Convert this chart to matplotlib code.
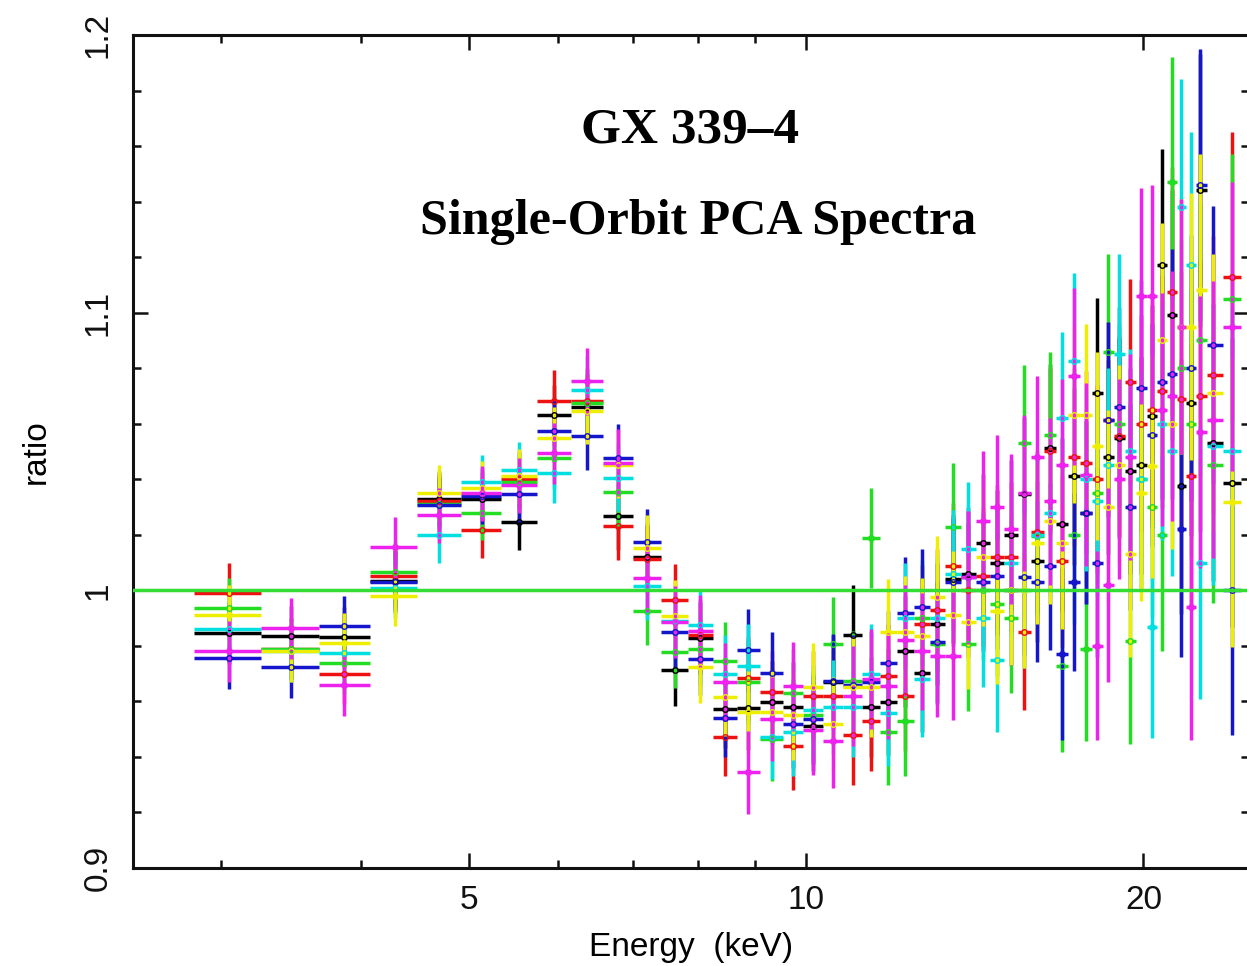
import matplotlib
matplotlib.use("Agg")
import matplotlib.pyplot as plt
from matplotlib.ticker import FixedLocator, FixedFormatter, MultipleLocator, NullFormatter

# energy bin centres (keV) and 1-sigma error on the ratio
energy = [3.05, 3.47, 3.87, 4.29, 4.70, 5.13, 5.54, 5.95, 6.37, 6.79,
          7.21, 7.64, 8.04, 8.46, 8.87, 9.32, 9.73, 10.14, 10.57, 11.00,
          11.43, 11.83, 12.25, 12.69, 13.09, 13.53, 13.95, 14.39, 14.80, 15.24,
          15.65, 16.07, 16.51, 16.92, 17.35, 17.78, 18.19, 18.60, 19.02, 19.46,
          19.91, 20.36, 20.78, 21.22, 21.62, 22.06, 22.47, 23.08, 24.00]
ratio_err = [.011, .011, .011, .011, .010, .010, .010, .011, .012, .012,
             .012, .013, .013, .014, .015, .015, .016, .016, .017, .018,
             .018, .019, .020, .021, .022, .023, .024, .025, .026, .027,
             .028, .029, .030, .031, .032, .033, .034, .035, .036, .037,
             .039, .040, .042, .045, .046, .048, .049, .050, .052]

black = [.9845, .9835, .983, 1.0035, 1.033, 1.0327, 1.0245, 1.063, 1.066, 1.0266,
         1.012, .9712, .9827, .9572, .9576, .9597, .958, .951, .967, .984,
         .958, .9597, .978, .9701, .988, 1.004, 1.006, 1.017, 1.010, 1.020,
         1.0345, 1.0104, 1.0514, 1.0237, 1.041, 1.028, 1.0712, 1.048, 1.055, 1.043,
         1.045, 1.0626, 1.117, 1.0993, 1.0374, 1.0676, 1.144, 1.0532, 1.0388]
red = [.999, .979, .970, 1.005, 1.032, 1.0216, 1.040, 1.0683, 1.068, 1.023,
       1.0112, .9964, .984, .9471, .9683, .9633, .944, .962, .962, .948,
       .953, .969, .962, .988, .993, 1.0086, 1.000, 1.005, 1.012, 1.012,
       .985, 1.021, 1.050, 1.0104, 1.048, 1.046, 1.040, 1.0615, 1.0555, 1.075,
       1.060, 1.065, 1.0716, 1.1076, 1.069, 1.041, 1.070, 1.0777, 1.113]
green = [.9935, .979, .9737, 1.0065, 1.031, 1.028, 1.039, 1.0475, 1.0673, 1.0353,
         .9924, .9777, .9788, .9745, .967, .9464, .963, .955, .9806, .9673,
         1.019, .9489, .953, .990, .9806, 1.0227, .9806, 1.000, .995, .990,
         1.053, 1.0194, 1.0558, .9727, 1.020, .9788, 1.035, 1.086, 1.060, .9817,
         1.040, 1.030, 1.020, 1.147, 1.080, 1.060, 1.090, 1.0453, 1.105]
blue = [.9755, .9723, .987, 1.003, 1.0306, 1.034, 1.0345, 1.0572, 1.0554, 1.0478,
        1.0173, .9849, .9752, .954, .9784, .9701, .952, .9536, .9673, .966,
        .967, .9737, .992, .9939, .9813, 1.0029, 1.0047, 1.003, 1.005, 1.000,
        1.0047, 1.003, 1.0086, .977, 1.003, 1.028, 1.010, 1.0615, 1.066, 1.030,
        1.0727, 1.0558, 1.075, 1.078, 1.022, 1.080, 1.146, 1.0885, 1.000]
cyan = [.986, .978, .9773, 1.001, 1.0198, 1.0389, 1.0435, 1.0424, 1.0723, 1.0406,
        1.0014, .989, .9874, .9698, .9727, .9471, .949, .957, .958, .958,
        .970, .9557, .990, .968, .990, 1.006, 1.015, .990, .975, 1.010,
        1.000, 1.020, 1.028, 1.0622, 1.0824, 1.040, 1.032, 1.045, 1.085, 1.050,
        1.040, .9867, 1.060, 1.050, 1.138, 1.117, 1.010, 1.052, 1.050]
magenta = [.978, .9863, .9658, 1.0155, 1.027, 1.0349, 1.0378, 1.0493, 1.0752, 1.046,
           1.0043, .9885, .9853, .9669, .9345, .9536, .9655, .9496, .9457, .962,
           .968, .9655, .982, .978, .9763, .9763, 1.0047, 1.025, 1.030, 1.022,
           1.035, 1.048, 1.032, 1.045, 1.077, 1.0417, .980, 1.002, 1.040, 1.048,
           1.106, 1.106, 1.065, 1.070, 1.095, .994, 1.057, 1.0615, 1.095]
yellow = [.991, .978, .981, .998, 1.035, 1.0367, 1.041, 1.055, 1.0647, 1.0453,
          1.0151, .9906, .9723, .9615, .956, .9561, .955, .965, .9518, .965,
          .965, .985, .985, .9835, .9975, .991, .9885, 1.012, .9924, 1.000,
          1.000, 1.017, 1.025, 1.017, 1.0633, 1.063, 1.052, 1.030, 1.045, 1.013,
          1.035, 1.0446, 1.0903, 1.060, 1.095, 1.095, 1.108, 1.0712, 1.0317]

series = [(black, "#000000"), (red, "#ee1111"), (green, "#22dd22"), (blue, "#1515cc"),
          (cyan, "#00e0e0"), (yellow, "#eeee00"), (magenta, "#ee22ee")]

# horizontal bars = channel widths (half way to the neighbouring bins)
n = len(energy)
xlo, xhi = [], []
for i in range(n):
    lo = (energy[i] - energy[i - 1]) / 2 if i > 0 else (energy[1] - energy[0]) / 2
    hi = (energy[i + 1] - energy[i]) / 2 if i < n - 1 else lo
    xlo.append(lo)
    xhi.append(hi)

sans = ["Liberation Sans Narrow", "Liberation Sans", "DejaVu Sans"]
fig = plt.figure(figsize=(12.47, 9.66), dpi=100)
ax = fig.add_axes([0.1067, 0.1015, 0.895, 0.8623])

for vals, c in series:
    ax.errorbar(energy, vals, xerr=[xlo, xhi], yerr=ratio_err, fmt="o", ms=4,
                mfc="none", mec=c, mew=1.0, color=c, elinewidth=2.5, capsize=0)

ax.axhline(1.0, color="#33dd33", lw=2.5, zorder=10)

ax.set_xscale("log")
ax.set_xlim(2.506, 24.85)
ax.set_ylim(0.9, 1.2)

ax.xaxis.set_major_locator(FixedLocator([5, 10, 20]))
ax.xaxis.set_major_formatter(FixedFormatter(["5", "10", "20"]))
ax.xaxis.set_minor_locator(FixedLocator([3, 4, 6, 7, 8, 9]))
ax.xaxis.set_minor_formatter(NullFormatter())
ax.yaxis.set_major_locator(FixedLocator([0.9, 1.0, 1.1, 1.2]))
ax.yaxis.set_major_formatter(FixedFormatter(["0.9", "1", "1.1", "1.2"]))
ax.yaxis.set_minor_locator(MultipleLocator(0.02))

ax.tick_params(which="both", direction="in", top=True, right=True, width=1.8, colors="#111111")
ax.tick_params(which="major", length=11)
ax.tick_params(which="minor", length=6)
ax.tick_params(axis="x", which="major", pad=12, labelsize=24)
ax.tick_params(axis="y", which="major", pad=14, labelsize=24, labelrotation=90)
for lab in ax.get_xticklabels() + ax.get_yticklabels():
    lab.set_family(sans)
for lab in ax.get_yticklabels():
    lab.set_va("center")
for sp in ax.spines.values():
    sp.set_linewidth(2.2)
    sp.set_color("#111111")

ax.set_xlabel("Energy  (keV)", family=sans, fontsize=24, labelpad=12)
ax.set_ylabel("ratio", family=sans, fontsize=24, labelpad=22)

fig.text(0.553, 0.865, "GX 339\u20134", family=["Liberation Serif", "DejaVu Serif"],
         fontweight="bold", fontsize=37, ha="center", va="center")
fig.text(0.56, 0.770, "Single-Orbit PCA Spectra", family=["Liberation Serif", "DejaVu Serif"],
         fontweight="bold", fontsize=36, ha="center", va="center")

fig.savefig("out.png", dpi=100)
